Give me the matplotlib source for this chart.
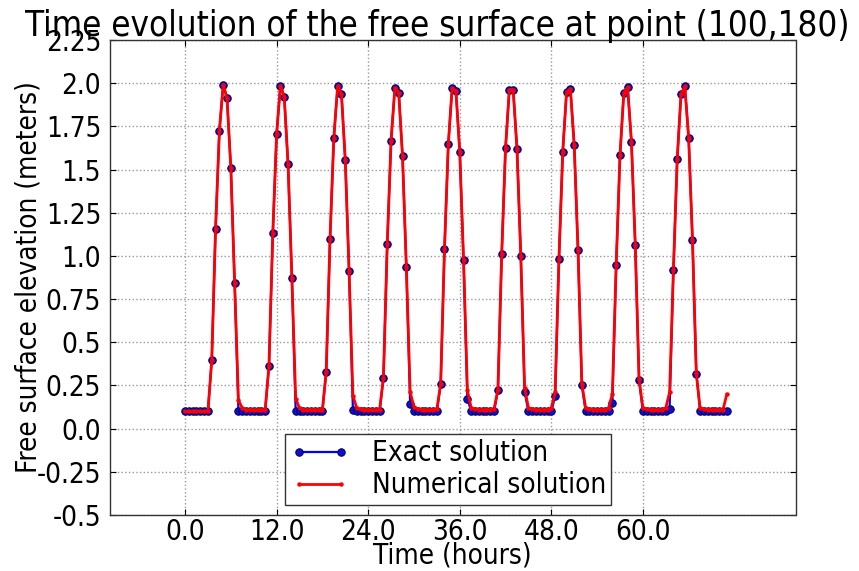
import numpy as np
import matplotlib
matplotlib.use("Agg")
import matplotlib.pyplot as plt

# ---------------- data ----------------
dt_hours = 0.5
exact = [
    0.1, 0.1, 0.1, 0.1, 0.1, 0.1, 0.1,
    0.396, 1.157, 1.723, 1.992, 1.913, 1.511, 0.846, 0.102,
    0.1, 0.1, 0.1, 0.1, 0.1, 0.1, 0.1,
    0.363, 1.130, 1.706, 1.986, 1.922, 1.530, 0.875, 0.100,
    0.1, 0.1, 0.1, 0.1, 0.1, 0.1, 0.1,
    0.327, 1.099, 1.685, 1.984, 1.936, 1.553, 0.910, 0.106,
    0.1, 0.1, 0.1, 0.1, 0.1, 0.1, 0.1,
    0.294, 1.070, 1.667, 1.974, 1.946, 1.578, 0.937, 0.145,
    0.1, 0.1, 0.1, 0.1, 0.1, 0.1, 0.1,
    0.257, 1.041, 1.646, 1.971, 1.955, 1.602, 0.974, 0.174,
    0.1, 0.1, 0.1, 0.1, 0.1, 0.1, 0.1,
    0.222, 1.012, 1.625, 1.963, 1.963, 1.621, 1.001, 0.213,
    0.1, 0.1, 0.1, 0.1, 0.1, 0.1, 0.1,
    0.187, 0.981, 1.604, 1.951, 1.967, 1.642, 1.032, 0.251,
    0.1, 0.1, 0.1, 0.1, 0.1, 0.1, 0.1,
    0.151, 0.947, 1.582, 1.946, 1.976, 1.661, 1.063, 0.280,
    0.1, 0.1, 0.1, 0.1, 0.1, 0.1, 0.1,
    0.116, 0.918, 1.561, 1.938, 1.981, 1.681, 1.092, 0.319,
    0.1, 0.1, 0.1, 0.1, 0.1, 0.1, 0.1, 0.1,
]
numerical = [
    0.1, 0.1, 0.1, 0.1, 0.1, 0.1, 0.1,
    0.396, 1.157, 1.723, 1.992, 1.913, 1.511, 0.846, 0.164,
    0.12, 0.11, 0.11, 0.11, 0.11, 0.11, 0.11,
    0.365, 1.130, 1.706, 1.986, 1.922, 1.530, 0.875, 0.174,
    0.118, 0.11, 0.11, 0.11, 0.11, 0.11, 0.11,
    0.330, 1.099, 1.685, 1.984, 1.936, 1.553, 0.910, 0.19,
    0.12, 0.112, 0.11, 0.11, 0.11, 0.11, 0.11,
    0.296, 1.070, 1.667, 1.974, 1.946, 1.578, 0.937, 0.213,
    0.125, 0.115, 0.11, 0.11, 0.11, 0.11, 0.112,
    0.26, 1.041, 1.646, 1.971, 1.955, 1.602, 0.974, 0.222,
    0.12, 0.115, 0.11, 0.11, 0.11, 0.11, 0.115,
    0.225, 1.012, 1.625, 1.963, 1.963, 1.621, 1.001, 0.235,
    0.12, 0.115, 0.11, 0.11, 0.11, 0.11, 0.12,
    0.21, 0.981, 1.604, 1.951, 1.967, 1.642, 1.032, 0.26,
    0.12, 0.115, 0.11, 0.11, 0.11, 0.11, 0.12,
    0.20, 0.947, 1.582, 1.946, 1.976, 1.661, 1.063, 0.285,
    0.12, 0.115, 0.11, 0.11, 0.11, 0.11, 0.12,
    0.21, 0.918, 1.561, 1.938, 1.981, 1.681, 1.092, 0.32,
    0.12, 0.115, 0.11, 0.11, 0.11, 0.11, 0.11, 0.199,
]
xtick_vals = [0, 12, 24, 36, 48, 60]
xtick_labels = ["0.0", "12.0", "24.0", "36.0", "48.0", "60.0"]
ytick_vals = [2.25, 2.0, 1.75, 1.5, 1.25, 1.0, 0.75, 0.5, 0.25, 0.0, -0.25, -0.5]
ytick_labels = ["2.25", "2.0", "1.75", "1.5", "1.25", "1.0", "0.75", "0.5",
                "0.25", "0.0", "-0.25", "-0.5"]

time = np.arange(len(exact)) * dt_hours

# ---------------- figure ----------------
plt.rcParams['font.family'] = ['DejaVu Sans']
plt.rcParams['font.stretch'] = 'condensed'

fig = plt.figure(figsize=(8.59, 5.71), dpi=100)
ax = fig.add_axes([109.5 / 859, 1 - 515 / 571, (795.5 - 109.5) / 859, (515 - 40) / 571])

ax.plot(time, exact, '-o', color='#0000ff', lw=1.6, ms=5.4,
        mfc='#1010c8', mec='#000060', mew=0.7, label='Exact solution', zorder=3)
ax.plot(time, numerical, '-o', color='#ff0000', lw=2.0, ms=2.2,
        mec='#ff0000', label='Numerical solution', zorder=4)

ax.set_xlim(-9.9, 80.0)
ax.set_ylim(-0.5, 2.25)
ax.set_xticks(xtick_vals)
ax.set_xticklabels(xtick_labels)
ax.set_yticks(ytick_vals)
ax.set_yticklabels(ytick_labels)
ax.tick_params(direction='in', length=4, labelsize=20, top=True, right=True)
ax.tick_params(axis='x', pad=2)
ax.tick_params(axis='y', pad=6)
ax.grid(True, linestyle=':', color='#999999', lw=1.0)
for s in ax.spines.values():
    s.set_color('#333333')
    s.set_linewidth(1.0)

ax.set_title('Time evolution of the free surface at point (100,180)', fontsize=25,
             pad=3, x=(437.5 - 109.5) / 686)
ax.set_xlabel('Time (hours)', fontsize=20, labelpad=-3)
ax.set_ylabel('Free surface elevation (meters)', fontsize=20, labelpad=-4)

leg = ax.legend(loc='lower center', bbox_to_anchor=(0.494, 0.021), fontsize=20,
                numpoints=2, fancybox=False, framealpha=1, edgecolor='#333333',
                handlelength=2.1, borderpad=0.2, labelspacing=0.15, borderaxespad=0,
                handletextpad=0.8)
leg.get_frame().set_linewidth(1.0)

fig.savefig('out.png', dpi=100)
